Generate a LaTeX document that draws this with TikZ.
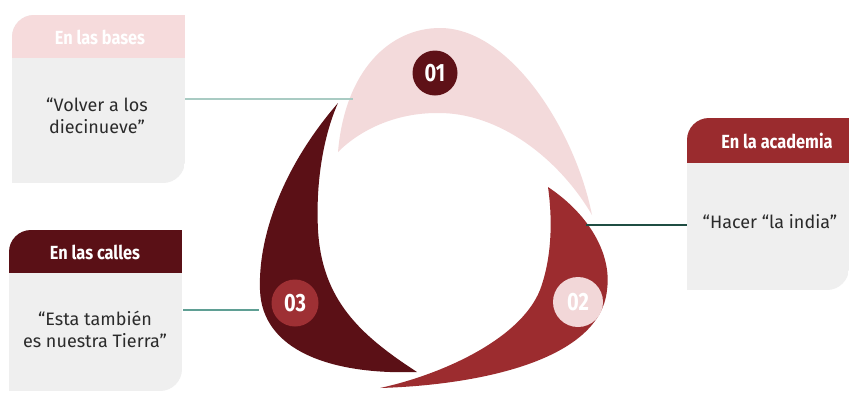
\documentclass[tikz,border=0pt]{standalone}
\usepackage{fontspec}
\setmainfont{Fira Sans}
\newfontfamily\headfont[FakeStretch=0.86]{Fira Sans Bold}
\newfontfamily\numfont[FakeStretch=0.8]{Fira Sans Bold}
\definecolor{pinkshape}{HTML}{F3DADB}
\definecolor{darkshape}{HTML}{5B1016}
\definecolor{redshape}{HTML}{9C2C2F}
\definecolor{circA}{HTML}{5E1117}
\definecolor{circB}{HTML}{F2D7D8}
\definecolor{circC}{HTML}{9E3034}
\definecolor{headA}{HTML}{F6DBDC}
\definecolor{headB}{HTML}{9A2B2E}
\definecolor{headC}{HTML}{5A1016}
\definecolor{bodygray}{HTML}{EFEFEF}
\definecolor{lineA}{HTML}{A9CBC3}
\definecolor{lineB}{HTML}{1F4D43}
\definecolor{lineC}{HTML}{5F9F94}
\definecolor{txt}{HTML}{2B2B2B}
\tikzset{
  numcircle/.style={circle, inner sep=0pt, text=white, font=\numfont\fontsize{25}{25}\selectfont},
  headtext/.style={text=white, font=\headfont\fontsize{19}{19}\selectfont},
  bodytext/.style={text=txt, align=center, font=\fontsize{18}{22}\selectfont},
  conn/.style={line width=1.6pt},
}
% box with rounded top-left and bottom-right corners
\newcommand{\boxpath}[5]{% x1,y1,x2,y2,r
  (#1,#4) -- (#1,#2+#5) .. controls (#1,#2+0.448*#5) and (#1+0.448*#5,#2) .. (#1+#5,#2)
  -- (#3,#2) -- (#3,#4-#5) .. controls (#3,#4-0.448*#5) and (#3-0.448*#5,#4) .. (#3-#5,#4) -- cycle}
\newcommand{\infobox}[7]{% x1,y1,x2,y2,r,headbottom,headcolor
  \begin{scope}
    \clip \boxpath{#1}{#2}{#3}{#4}{#5};
    \fill[bodygray] (#1,#2) rectangle (#3,#4);
    \fill[#7] (#1,#2) rectangle (#3,#6);
  \end{scope}}
\begin{document}
\begin{tikzpicture}[x=1pt,y=-1pt]
\useasboundingbox (0,0) rectangle (849,392);
\fill[white] (0,0) rectangle (849,392);

% boxes
\infobox{12}{15}{185}{183}{22}{58}{headA}
\infobox{9}{230}{182}{391}{22}{273}{headC}
\infobox{687}{118}{849}{290}{22}{163}{headB}

\node[headtext] (hbases) at (100,37) {En las bases};
\node[headtext] (hcalles) at (95,252) {En las calles};
\node[headtext] (hacad) at (777,141) {En la academia};

\node[bodytext] (tbases) at (97,116) {“Volver a los\\diecinueve”};
\node[bodytext] (tcalles) at (95,329) {“Esta también\\es nuestra Tierra”};
\node[bodytext] (tacad) at (770,222) {“Hacer “la india”};

% shapes
\fill[pinkshape] (338,152) .. controls (345,70) and (390,28) .. (440,28)
  .. controls (510,28) and (575,130) .. (592,215)
  .. controls (560,160) and (500,112) .. (437,113)
  .. controls (395,113) and (360,130) .. (338,152) -- cycle;
\fill[darkshape] (338,103) .. controls (280,170) and (258,240) .. (260,290)
  .. controls (262,350) and (330,375) .. (417,372)
  .. controls (360,335) and (322,300) .. (318,230)
  .. controls (315,170) and (328,125) .. (338,103) -- cycle;
\fill[redshape] (548,187) .. controls (590,215) and (612,255) .. (607,290)
  .. controls (600,360) and (480,385) .. (380,388)
  .. controls (440,375) and (520,340) .. (540,290)
  .. controls (553,255) and (552,215) .. (548,187) -- cycle;

% number circles
\node[numcircle, fill=circA, minimum size=45pt] (n1) at (435,73) {01};
\node[numcircle, fill=circB, minimum size=50pt] (n2) at (578,302) {02};
\node[numcircle, fill=circC, minimum size=47pt] (n3) at (295,303) {03};

% connectors
\coordinate (bR) at (185,99);
\coordinate (pinkL) at (353,99);
\coordinate (aL) at (687,225);
\coordinate (redR) at (586,225);
\coordinate (cR) at (183,310);
\coordinate (darkL) at (259,310);
\draw[conn, lineA] (bR) -- (pinkL);
\draw[conn, lineB] (redR) -- (aL);
\draw[conn, lineC] (cR) -- (darkL);
\end{tikzpicture}
\end{document}
